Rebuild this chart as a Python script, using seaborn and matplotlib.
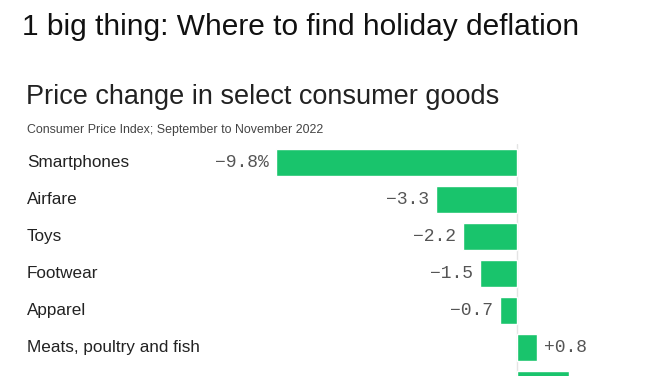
import matplotlib
matplotlib.use('Agg')
import matplotlib.pyplot as plt
import matplotlib.transforms as mtransforms
import seaborn as sns
import pandas as pd

# data (last row is cut off at the bottom edge)
categories = ['Smartphones', 'Airfare', 'Toys', 'Footwear', 'Apparel',
              'Meats, poultry and fish', 'Fruits and vegetables']
changes = [-9.8, -3.3, -2.2, -1.5, -0.7, 0.8, 2.1]
value_labels = ['−9.8%', '−3.3', '−2.2', '−1.5', '−0.7', '+0.8', '+2.1']

sns.set_theme(style='white')
plt.rcParams['font.family'] = ['Liberation Sans', 'DejaVu Sans']

W, H = 668, 376
fig = plt.figure(figsize=(W / 100, H / 100), dpi=100)
fig.patch.set_facecolor('white')

# axes placed in pixel terms: left edge at -9.8, rows 37 px apart, first row centred at y=162
left_px, right_px = 276, 668
top_px = 144
row_px = 37
n = len(categories)
bottom_px = top_px + row_px * n
ax = fig.add_axes([left_px / W, 1 - bottom_px / H, (right_px - left_px) / W, (bottom_px - top_px) / H])

df = pd.DataFrame({'category': categories, 'change': changes})
sns.barplot(data=df, x='change', y='category', orient='h', color='#19c46c',
            saturation=1, width=0.72, ax=ax)

px_per_unit = (517 - 276) / 9.8
ax.set_xlim(-9.8, -9.8 + (right_px - left_px) / px_per_unit)
ax.set_ylim(n - 0.5, -0.5)
ax.axvline(0, color='#e4e4e4', lw=1, zorder=0)
ax.axis('off')

gap = 7 / px_per_unit
for i, (v, lab) in enumerate(zip(changes, value_labels)):
    if v < 0:
        ax.text(v - gap, i, lab, ha='right', va='center', fontsize=13,
                family='Liberation Mono', color='#555555')
    else:
        ax.text(v + gap, i, lab, ha='left', va='center', fontsize=13,
                family='Liberation Mono', color='#555555')

# category names at the left margin
trans = mtransforms.blended_transform_factory(fig.transFigure, ax.transData)
for i, c in enumerate(categories):
    ax.text(27 / W, i, c, transform=trans, ha='left', va='center',
            fontsize=12.3, color='#222222')

fig.text(22 / W, 1 - 27 / H, '1 big thing: Where to find holiday deflation',
         ha='left', va='center', fontsize=21.5, color='#111111')
fig.text(26 / W, 1 - 97 / H, 'Price change in select consumer goods',
         ha='left', va='center', fontsize=19.5, color='#222222')
fig.text(27 / W, 1 - 130 / H, 'Consumer Price Index; September to November 2022',
         ha='left', va='center', fontsize=8.9, color='#444444')

fig.savefig('out.png', dpi=100, facecolor='white')
